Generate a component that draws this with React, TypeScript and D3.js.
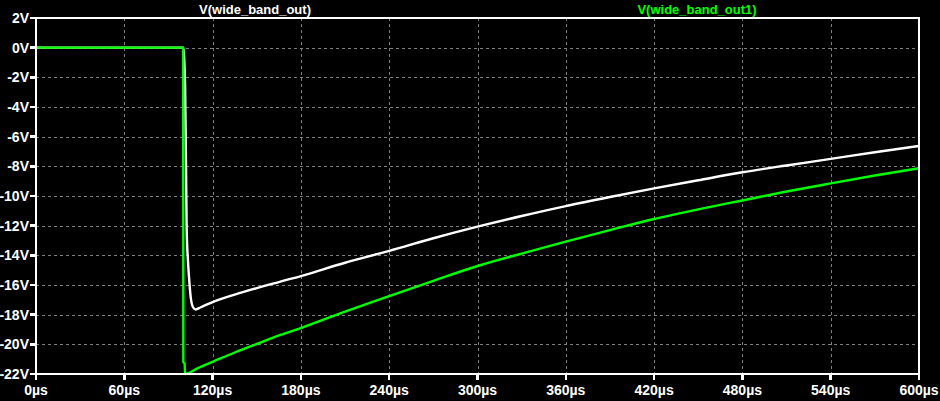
import React from "react";
import * as d3 from "d3";

const W = 940;
const H = 401;

// time in µs
const whiteT = [0, 100, 101.3, 101.9, 102.4, 103.1, 104, 105.1, 106.7, 108.5, 112, 120, 140, 165, 180, 210, 240, 270, 300, 330, 360, 390, 420, 450, 480, 510, 540, 570, 600];
const whiteV = [0, 0, -2.5, -7.7, -12.3, -14.1, -15.5, -16.8, -17.5, -17.65, -17.5, -17.15, -16.5, -15.8, -15.4, -14.5, -13.7, -12.85, -12.07, -11.35, -10.68, -10.07, -9.49, -8.94, -8.4, -7.94, -7.5, -7.05, -6.63];

const greenT = [0, 100, 100.1, 101, 101.3, 110, 120, 135, 152, 166, 180, 210, 240, 270, 300, 330, 360, 390, 420, 450, 480, 510, 540, 570, 600];
const greenV = [0, 0, -21.2, -21.3, -22, -21.6, -21.18, -20.55, -19.9, -19.37, -18.9, -17.8, -16.75, -15.72, -14.72, -13.88, -13.08, -12.3, -11.55, -10.9, -10.3, -9.7, -9.15, -8.62, -8.13];

const xTicks = [0, 60, 120, 180, 240, 300, 360, 420, 480, 540, 600];
const yTicks = [2, 0, -2, -4, -6, -8, -10, -12, -14, -16, -18, -20, -22];

const series = [
  { name: "V(wide_band_out)", t: whiteT, v: whiteV, color: "#ffffff", labelX: 255 },
  { name: "V(wide_band_out1)", t: greenT, v: greenV, color: "#00ff00", labelX: 697 },
];

const FONT = "'Liberation Sans', Arial, sans-serif";

export default function App() {
  const x = d3.scaleLinear().domain([0, 600]).range([36, 919]);
  const y = d3.scaleLinear().domain([2, -22]).range([18, 374]);
  const line = d3
    .line<[number, number]>()
    .x((d) => x(d[0]))
    .y((d) => y(d[1]))
    .curve(d3.curveMonotoneX);

  return (
    <svg
      width={W}
      height={H}
      style={{ position: "absolute", left: 0, top: 0, background: "#000" }}
    >
      <rect x={0} y={0} width={W} height={H} fill="#000" />
      {/* grid */}
      {xTicks.slice(1, -1).map((t) => (
        <line
          key={"gx" + t}
          x1={Math.round(x(t)) + 0.5}
          x2={Math.round(x(t)) + 0.5}
          y1={y(2)}
          y2={y(-22)}
          stroke="#808080"
          strokeWidth={1}
          strokeDasharray="3,3"
          shapeRendering="crispEdges"
        />
      ))}
      {yTicks.slice(1, -1).map((v) => (
        <line
          key={"gy" + v}
          x1={x(0)}
          x2={x(600)}
          y1={Math.round(y(v)) + 0.5}
          y2={Math.round(y(v)) + 0.5}
          stroke="#808080"
          strokeWidth={1}
          strokeDasharray="3,3"
          shapeRendering="crispEdges"
        />
      ))}
      {/* traces */}
      {series.map((s) => (
        <path
          key={s.name}
          d={line(s.t.map((t, i) => [t, s.v[i]] as [number, number])) || ""}
          fill="none"
          stroke={s.color}
          strokeWidth={2.4}
          strokeLinejoin="round"
        />
      ))}
      {/* frame */}
      <rect
        x={x(0)}
        y={y(2)}
        width={x(600) - x(0)}
        height={y(-22) - y(2)}
        fill="none"
        stroke="#fff"
        strokeWidth={2.5}
        shapeRendering="crispEdges"
      />
      {/* y ticks */}
      {yTicks.map((v) => (
        <g key={"ty" + v}>
          <line x1={x(0) - 6} x2={x(0)} y1={y(v)} y2={y(v)} stroke="#fff" strokeWidth={2.5} shapeRendering="crispEdges" />
          <text
            x={x(0) - 7}
            y={y(v)}
            dy="0.36em"
            textAnchor="end"
            fill="#fff"
            fontFamily={FONT}
            fontWeight="bold"
            fontSize={14}
          >
            {v + "V"}
          </text>
        </g>
      ))}
      {/* x ticks */}
      {xTicks.map((t) => (
        <g key={"tx" + t}>
          <line x1={x(t)} x2={x(t)} y1={y(-22)} y2={y(-22) + 6} stroke="#fff" strokeWidth={2.5} shapeRendering="crispEdges" />
          <text
            x={x(t)}
            y={395}
            textAnchor="middle"
            fill="#fff"
            fontFamily={FONT}
            fontWeight="bold"
            fontSize={14}
          >
            {t + "µs"}
          </text>
        </g>
      ))}
      {/* legend titles */}
      {series.map((s) => (
        <text
          key={"lab" + s.name}
          x={s.labelX}
          y={13.5}
          textAnchor="middle"
          fill={s.color}
          fontFamily={FONT}
          fontWeight="bold"
          fontSize={13}
        >
          {s.name}
        </text>
      ))}
    </svg>
  );
}
